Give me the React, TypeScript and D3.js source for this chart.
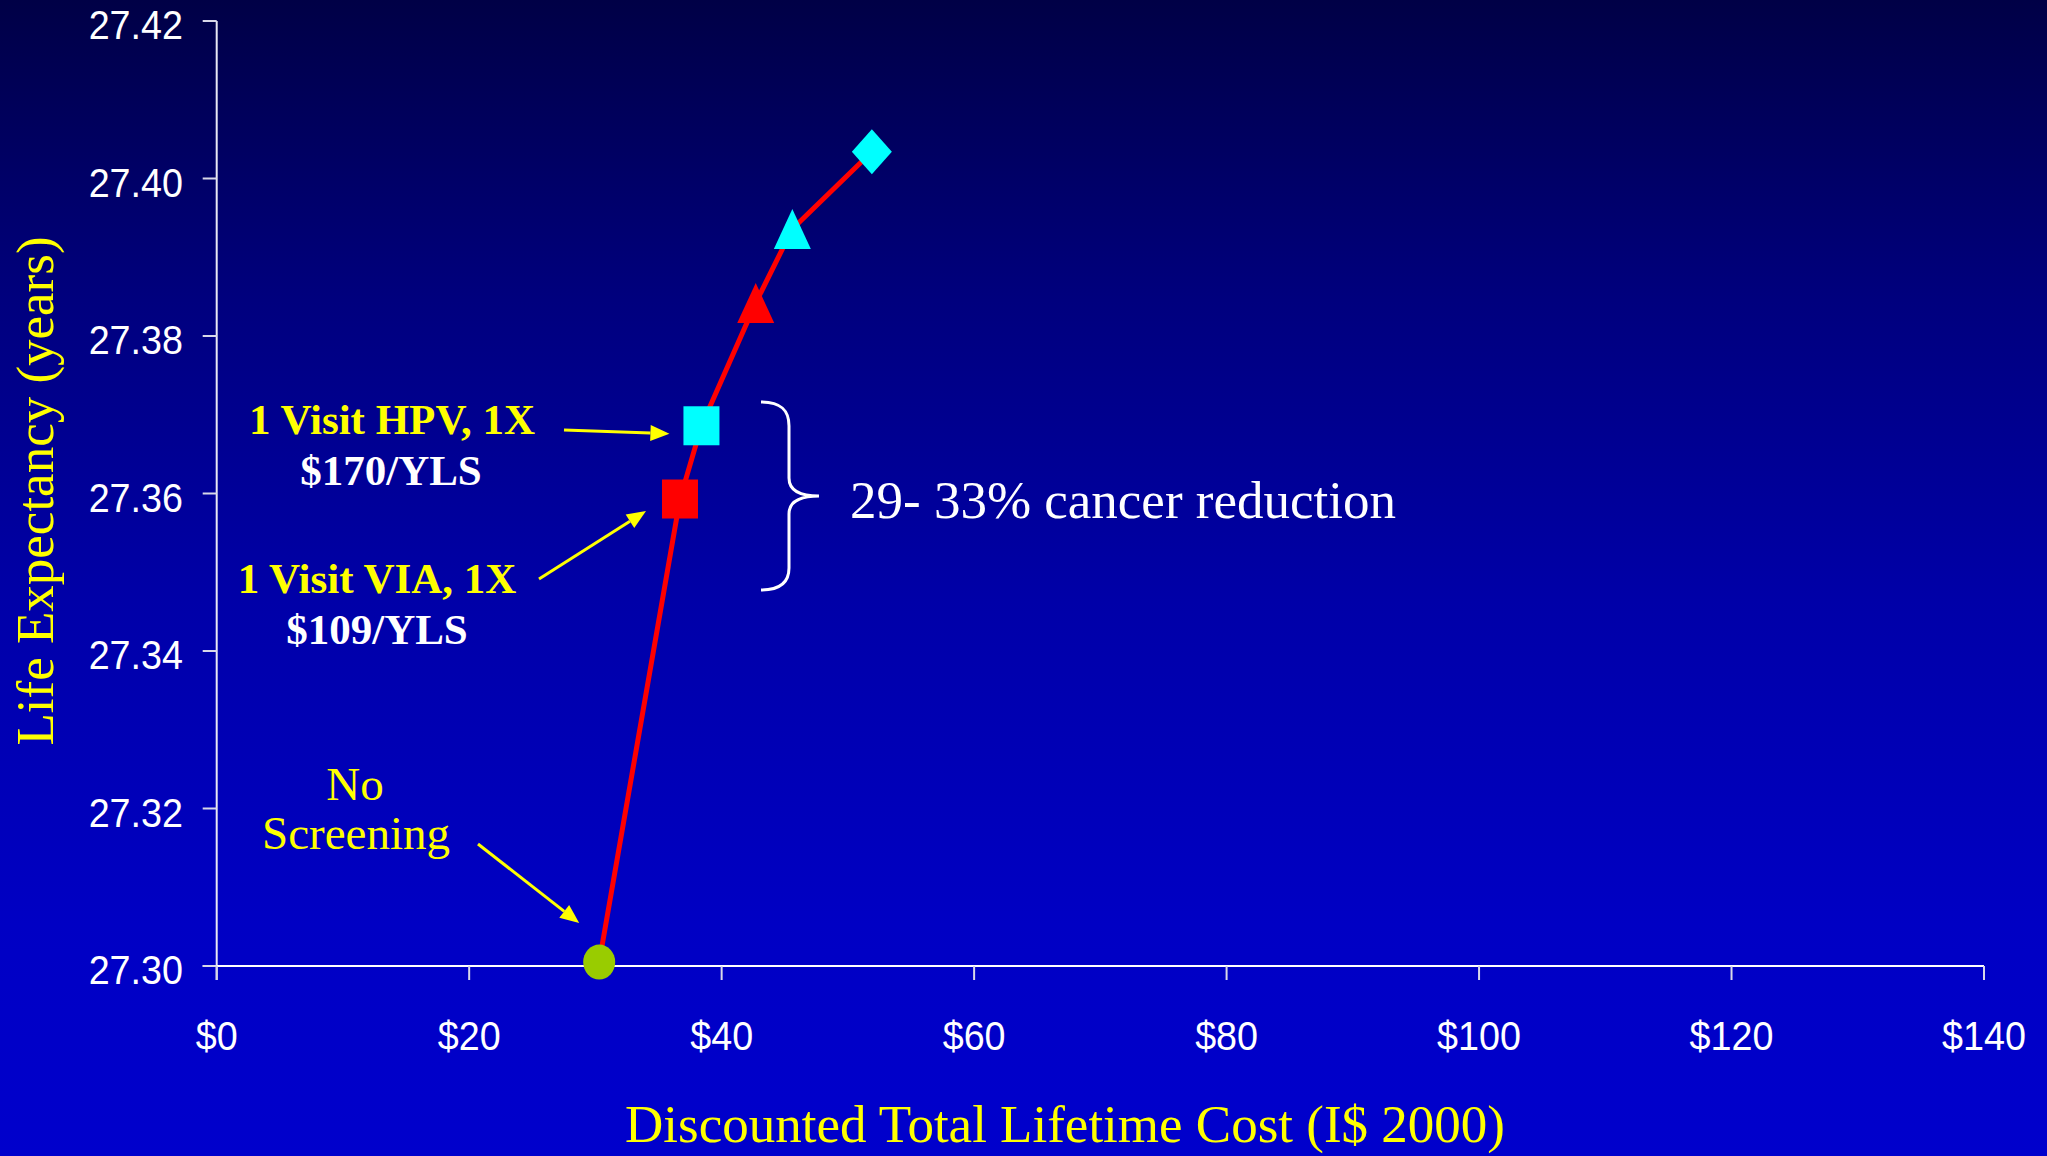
import React, { useEffect } from "react";
import * as d3 from "d3";

// Screening strategies: discounted lifetime cost (I$ 2000) vs. life expectancy (years)
const strategyIds = ["none", "via1", "hpv1", "s4", "s5", "s6"];
const lifetimeCost = [30.3, 36.7, 38.4, 42.7, 45.6, 51.9];
const lifeExpectancy = [27.3005, 27.3593, 27.3686, 27.3842, 27.3936, 27.4034];
const markerShapes = ["circle", "square", "square", "triangle", "triangle", "diamond"];
const markerColors = ["#99CC00", "#FF0000", "#00FFFF", "#FF0000", "#00FFFF", "#00FFFF"];

const xTickValues = [0, 20, 40, 60, 80, 100, 120, 140];
const yTickValues = [27.3, 27.32, 27.34, 27.36, 27.38, 27.4, 27.42];

const W = 2047;
const H = 1156;
const serif = "'Liberation Serif', 'Times New Roman', serif";
const sans = "'Liberation Sans', Arial, sans-serif";

const x = d3.scaleLinear().domain([0, 140]).range([216.7, 1984]);
const y = d3.scaleLinear().domain([27.3, 27.42]).range([966, 21]);

function Arrow({ x1, y1, x2, y2 }: { x1: number; y1: number; x2: number; y2: number }) {
  const ang = Math.atan2(y2 - y1, x2 - x1);
  const len = 19;
  const hw = 8;
  const bx = x2 - len * Math.cos(ang);
  const by = y2 - len * Math.sin(ang);
  const px = -Math.sin(ang) * hw;
  const py = Math.cos(ang) * hw;
  return (
    <g>
      <line x1={x1} y1={y1} x2={bx} y2={by} stroke="#FFFF00" strokeWidth={3} />
      <polygon
        points={`${x2},${y2} ${bx + px},${by + py} ${bx - px},${by - py}`}
        fill="#FFFF00"
      />
    </g>
  );
}

export default function App() {
  useEffect(() => {
    document.body.style.margin = "0";
  }, []);

  const pts = lifetimeCost.map((c, i) => ({
    id: strategyIds[i],
    px: x(c),
    py: y(lifeExpectancy[i]),
    shape: markerShapes[i],
    color: markerColors[i],
  }));

  const line = d3
    .line<{ px: number; py: number }>()
    .x((d) => d.px)
    .y((d) => d.py);

  const renderMarker = (p: (typeof pts)[number]) => {
    const { px, py, color, shape, id } = p;
    if (shape === "circle") {
      return <ellipse key={id} cx={px} cy={py} rx={16} ry={17.5} fill={color} />;
    }
    if (shape === "square") {
      return <rect key={id} x={px - 18} y={py - 19.5} width={36} height={39} fill={color} />;
    }
    if (shape === "triangle") {
      return (
        <polygon
          key={id}
          points={`${px},${py - 20} ${px + 18.5},${py + 20} ${px - 18.5},${py + 20}`}
          fill={color}
        />
      );
    }
    return (
      <polygon
        key={id}
        points={`${px},${py - 22.5} ${px + 20},${py} ${px},${py + 22.5} ${px - 20},${py}`}
        fill={color}
      />
    );
  };

  const none = pts[0];
  const via = pts[1];
  const hpv = pts[2];

  const x0 = x(0);
  const y0 = y(27.3);

  return (
    <svg
      width={W}
      height={H}
      style={{ position: "absolute", left: 0, top: 0, display: "block" }}
    >
      <defs>
        <linearGradient id="bg" x1="0" y1="0" x2="0" y2="1">
          <stop offset="0" stopColor="#000046" />
          <stop offset="0.26" stopColor="#00007E" />
          <stop offset="0.52" stopColor="#0000A8" />
          <stop offset="0.8" stopColor="#0000C4" />
          <stop offset="1" stopColor="#0000CC" />
        </linearGradient>
      </defs>
      <rect x={0} y={0} width={W} height={H} fill="url(#bg)" />

      {/* Axes */}
      <line x1={x0} y1={y(27.42)} x2={x0} y2={y0 + 14} stroke="#E8E8F4" strokeWidth={2} />
      <line x1={x0 - 14} y1={y0} x2={x(140)} y2={y0} stroke="#FFFFFF" strokeWidth={2} />
      {yTickValues.map((v) => (
        <g key={`yt${v}`}>
          <line x1={x0 - 14} y1={y(v)} x2={x0} y2={y(v)} stroke="#D8D8E8" strokeWidth={2} />
          <text
            transform={`translate(183, ${y(v) + 18}) scale(0.92, 1)`}
            textAnchor="end"
            fill="#FFFFFF"
            fontFamily={sans}
            fontSize={41}
          >
            {v.toFixed(2)}
          </text>
        </g>
      ))}
      {xTickValues.map((v) => (
        <g key={`xt${v}`}>
          <line x1={x(v)} y1={y0} x2={x(v)} y2={y0 + 14} stroke="#D8D8E8" strokeWidth={2} />
          <text
            transform={`translate(${x(v)}, 1050) scale(0.92, 1)`}
            textAnchor="middle"
            fill="#FFFFFF"
            fontFamily={sans}
            fontSize={41}
          >
            {`$${v}`}
          </text>
        </g>
      ))}

      {/* Axis titles */}
      <text
        transform="translate(53, 491) rotate(-90)"
        textAnchor="middle"
        fill="#FFFF00"
        fontFamily={serif}
        fontSize={53}
      >
        Life Expectancy (years)
      </text>
      <text x={1065} y={1142} textAnchor="middle" fill="#FFFF00" fontFamily={serif} fontSize={53}>
        Discounted Total Lifetime Cost (I$ 2000)
      </text>

      {/* Frontier line and markers */}
      <path d={line(pts) ?? ""} fill="none" stroke="#FF0000" strokeWidth={5} />
      {pts.map(renderMarker)}

      {/* Annotations */}
      <Arrow x1={564} y1={430} x2={hpv.px - 32} y2={hpv.py + 8} />
      <Arrow x1={539} y1={579} x2={via.px - 34} y2={via.py + 12} />
      <Arrow x1={478} y1={844} x2={none.px - 20} y2={none.py - 39} />

      <text x={392} y={434} textAnchor="middle" fill="#FFFF00" fontFamily={serif} fontWeight="bold" fontSize={43}>
        1 Visit HPV, 1X
      </text>
      <text x={391} y={485} textAnchor="middle" fill="#FFFFFF" fontFamily={serif} fontWeight="bold" fontSize={43}>
        $170/YLS
      </text>
      <text x={377} y={593} textAnchor="middle" fill="#FFFF00" fontFamily={serif} fontWeight="bold" fontSize={43}>
        1 Visit VIA, 1X
      </text>
      <text x={377} y={644} textAnchor="middle" fill="#FFFFFF" fontFamily={serif} fontWeight="bold" fontSize={43}>
        $109/YLS
      </text>

      <text x={355} y={800} textAnchor="middle" fill="#FFFF00" fontFamily={serif} fontSize={47}>
        No
      </text>
      <text x={356} y={849} textAnchor="middle" fill="#FFFF00" fontFamily={serif} fontSize={47}>
        Screening
      </text>

      <path
        d="M 761 402 C 781 402, 789 410, 789 426 L 789 478 C 789 490, 799 496, 819 496 C 799 496, 789 502, 789 514 L 789 568 C 789 582, 781 590, 761 590"
        fill="none"
        stroke="#FFFFFF"
        strokeWidth={3}
      />
      <text x={850} y={518} fill="#FFFFFF" fontFamily={serif} fontSize={53}>
        29- 33% cancer reduction
      </text>
    </svg>
  );
}
